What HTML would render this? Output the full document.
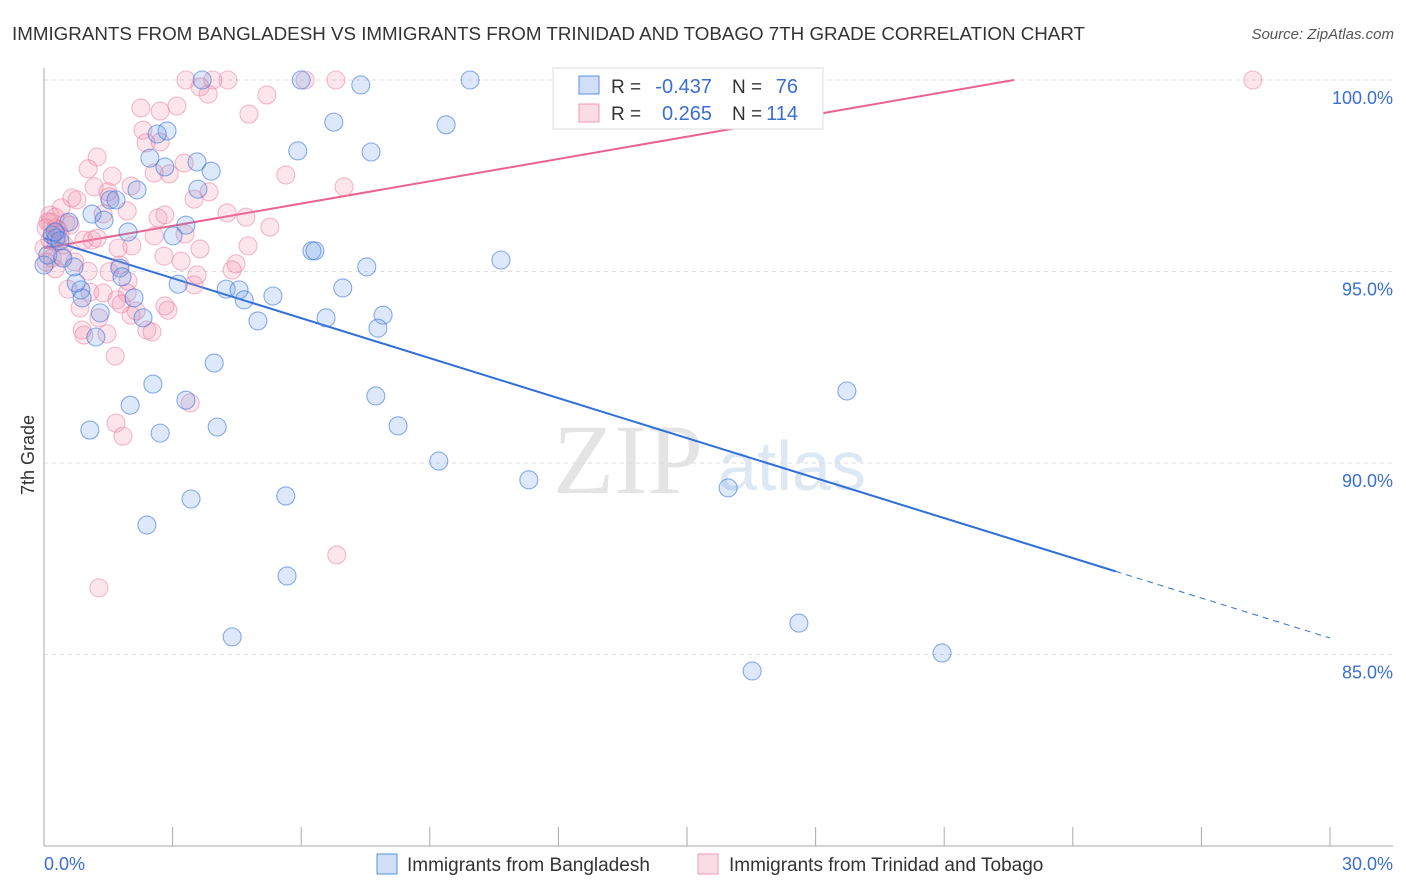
<!DOCTYPE html>
<html><head><meta charset="utf-8"><style>
body{margin:0;background:#fff;font-family:"Liberation Sans",sans-serif}
svg{display:block}
</style></head><body>
<svg id="c" width="1406" height="892">
<text x="12" y="40" font-size="18" fill="#333" textLength="1073" lengthAdjust="spacingAndGlyphs">IMMIGRANTS FROM BANGLADESH VS IMMIGRANTS FROM TRINIDAD AND TOBAGO 7TH GRADE CORRELATION CHART</text>
<text x="1394" y="39" font-size="15" fill="#555" text-anchor="end" font-style="italic">Source: ZipAtlas.com</text>
<g>
<text x="553" y="493" font-size="100" fill="#e4e4e4" font-family="Liberation Serif,serif">ZIP</text>
<text x="718" y="490" font-size="70" fill="#dde8f5">atlas</text>
</g>
<g id="grid"></g>
<g id="axes"></g>
<g id="lines"></g>
<g id="pts"></g>
<text transform="translate(34,455) rotate(-90)" font-size="18" fill="#333" text-anchor="middle">7th Grade</text>
<g>
<rect x="553" y="68" width="270" height="61" fill="#fff" stroke="#ddd"/>
<rect x="579" y="76" width="20" height="18" fill="rgba(100,150,230,0.3)" stroke="#5b8fe0"/>
<rect x="579" y="104" width="20" height="18" fill="rgba(240,140,170,0.3)" stroke="#f09ab4"/>
<text x="611" y="93" font-size="19" fill="#333">R =</text>
<text x="712" y="93" font-size="20" fill="#3a6fd0" text-anchor="end">-0.437</text>
<text x="732" y="93" font-size="19" fill="#333">N =</text>
<text x="798" y="93" font-size="20" fill="#3a6fd0" text-anchor="end">76</text>
<text x="611" y="120" font-size="19" fill="#333">R =</text>
<text x="712" y="120" font-size="20" fill="#3a6fd0" text-anchor="end">0.265</text>
<text x="732" y="120" font-size="19" fill="#333">N =</text>
<text x="798" y="120" font-size="20" fill="#3a6fd0" text-anchor="end">114</text>
</g>
<g>
<rect x="377" y="854" width="20" height="20" fill="rgba(100,150,230,0.3)" stroke="#5b8fe0"/>
<text x="407" y="871" font-size="19" fill="#333">Immigrants from Bangladesh</text>
<rect x="698" y="854" width="20" height="20" fill="rgba(240,140,170,0.3)" stroke="#f09ab4"/>
<text x="729" y="871" font-size="19" fill="#333">Immigrants from Trinidad and Tobago</text>
</g>
</svg>
<script>
const blueX=[3.69,6.00,9.94,7.39,6.76,9.38,2.87,2.64,5.92,7.63,2.47,2.82,3.57,3.90,3.59,2.17,1.54,1.68,1.12,1.40,0.58,3.31,1.96,3.01,0.19,0.28,0.37,6.25,6.32,10.66,7.53,0.70,1.77,1.82,3.13,4.25,4.55,6.97,0.86,0.89,2.10,4.67,5.34,1.31,2.31,4.99,6.58,7.91,7.79,1.21,3.97,2.54,18.73,7.74,3.31,2.01,8.26,4.04,1.07,2.71,9.21,11.31,15.96,3.43,5.64,2.40,5.67,4.39,17.61,20.95,16.52,0.00,0.09,0.26,0.44,0.75];
const blueY=[100,100,100,99.87,98.9,98.83,98.67,98.59,98.15,98.12,97.96,97.73,97.86,97.62,97.15,97.13,96.87,96.87,96.50,96.34,96.29,96.21,96.03,95.93,95.95,95.87,95.80,95.54,95.54,95.30,95.12,95.12,95.09,94.86,94.67,94.54,94.52,94.57,94.52,94.31,94.31,94.26,94.36,93.92,93.79,93.71,93.79,93.86,93.52,93.29,92.61,92.06,91.88,91.75,91.64,91.51,90.97,90.94,90.86,90.78,90.05,89.56,89.35,89.06,89.14,88.38,87.05,85.46,85.82,85.04,84.57,95.17,95.43,96.03,95.35,94.70];
const pinkX=[3.31,3.94,4.29,6.09,6.81,28.2,3.64,3.83,5.20,2.26,2.71,3.10,4.78,2.31,2.71,2.38,1.24,3.27,1.03,5.64,1.59,2.92,2.57,7.00,1.17,0.65,1.49,0.77,3.85,3.50,2.03,1.52,1.94,0.40,1.38,2.66,2.82,4.27,4.71,0.26,0.14,0.51,0.61,5.27,2.57,3.29,0.28,0.93,1.12,1.24,2.05,4.76,3.64,1.73,2.80,0.42,0.72,3.20,4.48,1.77,4.39,1.03,1.52,0.26,3.57,3.50,1.96,0.56,1.38,1.07,1.94,1.70,1.80,2.89,2.03,2.15,1.28,0.84,2.82,0.89,0.93,1.47,2.40,2.52,1.66,3.41,1.68,1.84,6.83,1.28,0.09,0.05,0.14,0.00,0.19,0.28,0.37,0.47,0.33,0.05,0.14];
const pinkY=[100,100,100,100,100,100,99.82,99.63,99.61,99.27,99.19,99.32,99.11,98.69,98.38,98.36,97.99,97.83,97.68,97.52,97.49,97.55,97.57,97.21,97.21,96.92,97.08,96.87,97.08,96.89,97.23,96.95,96.58,96.66,96.50,96.40,96.48,96.53,96.42,96.42,96.29,96.27,96.21,96.16,95.93,95.98,95.77,95.82,95.82,95.87,95.67,95.67,95.59,95.61,95.40,95.40,95.25,95.27,95.20,95.17,95.04,95.01,94.99,95.07,94.91,94.65,94.75,94.54,94.44,94.46,94.44,94.26,94.15,93.99,93.86,93.97,93.79,94.05,94.10,93.47,93.34,93.37,93.47,93.42,92.79,91.57,91.04,90.70,87.60,86.74,96.29,96.14,95.82,95.61,95.35,96.14,95.95,95.69,96.08,95.25,96.47];
const yTicks=[100,95,90,85];
const yTickLabels=["100.0%","95.0%","90.0%","85.0%"];
const xTicks=[0,3,6,9,12,15,18,21,24,27,30];
const blueTrend=[95.87,-0.348]; // intercept, slope
const pinkTrend=[95.61,0.194];
const blueSolidEnd=25;

const NS="http://www.w3.org/2000/svg";
const X=v=>44+v/30*1286;
const Y=v=>80+(100-v)/5*191.5;
function mk(t,a,p){const e=document.createElementNS(NS,t);for(const k in a)e.setAttribute(k,a[k]);p.appendChild(e);return e;}
const grid=document.getElementById('grid'),axes=document.getElementById('axes'),lines=document.getElementById('lines'),pts=document.getElementById('pts');
yTicks.forEach((v,i)=>{
 const l=mk('line',{x1:44,x2:1393,y1:Y(v),y2:Y(v),stroke:'#ddd','stroke-dasharray':'4,4'},grid);
 
 
 const t=mk('text',{x:1393,y:Y(v)+24,'font-size':18,fill:'#3a6fd0','text-anchor':'end'},axes);
 t.textContent=yTickLabels[i];
 
 
});
const ya=mk('line',{x1:44,x2:44,y1:68,y2:846,stroke:'#aaa'},axes);


const xa=mk('line',{x1:44,x2:1393,y1:846,y2:846,stroke:'#aaa'},axes);


xTicks.forEach(v=>{
 const l=mk('line',{x1:X(v),x2:X(v),y1:827,y2:846,stroke:'#aaa'},axes);
 
 
});
const x0=mk('text',{x:44,y:870,'font-size':18,fill:'#3a6fd0'},axes);x0.textContent='0.0%';


const x1=mk('text',{x:1393,y:870,'font-size':18,fill:'#3a6fd0','text-anchor':'end'},axes);x1.textContent='30.0%';



const bt=x=>blueTrend[0]+blueTrend[1]*x;
const b1=mk('line',{x1:X(0),y1:Y(bt(0)),x2:X(blueSolidEnd),y2:Y(bt(blueSolidEnd)),stroke:'#2f6fd6','stroke-width':2},lines);


const b2=mk('line',{x1:X(blueSolidEnd),y1:Y(bt(blueSolidEnd)),x2:X(30),y2:Y(bt(30)),stroke:'#2f6fd6','stroke-width':1,'stroke-dasharray':'6,5'},lines);


const pEnd=(100-pinkTrend[0])/pinkTrend[1];
const p1=mk('line',{x1:X(0),y1:Y(pinkTrend[0]),x2:X(pEnd),y2:Y(100),stroke:'#e8638e','stroke-width':2},lines);



pinkX.forEach((x,i)=>{
 const c=mk('circle',{cx:X(x),cy:Y(pinkY[i]),r:9,fill:'rgba(240,140,170,0.22)',stroke:'rgba(235,130,165,0.55)','stroke-width':1.1},pts);
 
 
});
blueX.forEach((x,i)=>{
 const c=mk('circle',{cx:X(x),cy:Y(blueY[i]),r:9,fill:'rgba(100,150,230,0.22)',stroke:'rgba(60,120,220,0.6)','stroke-width':1.1},pts);
 
 
});
</script>
</body></html>
